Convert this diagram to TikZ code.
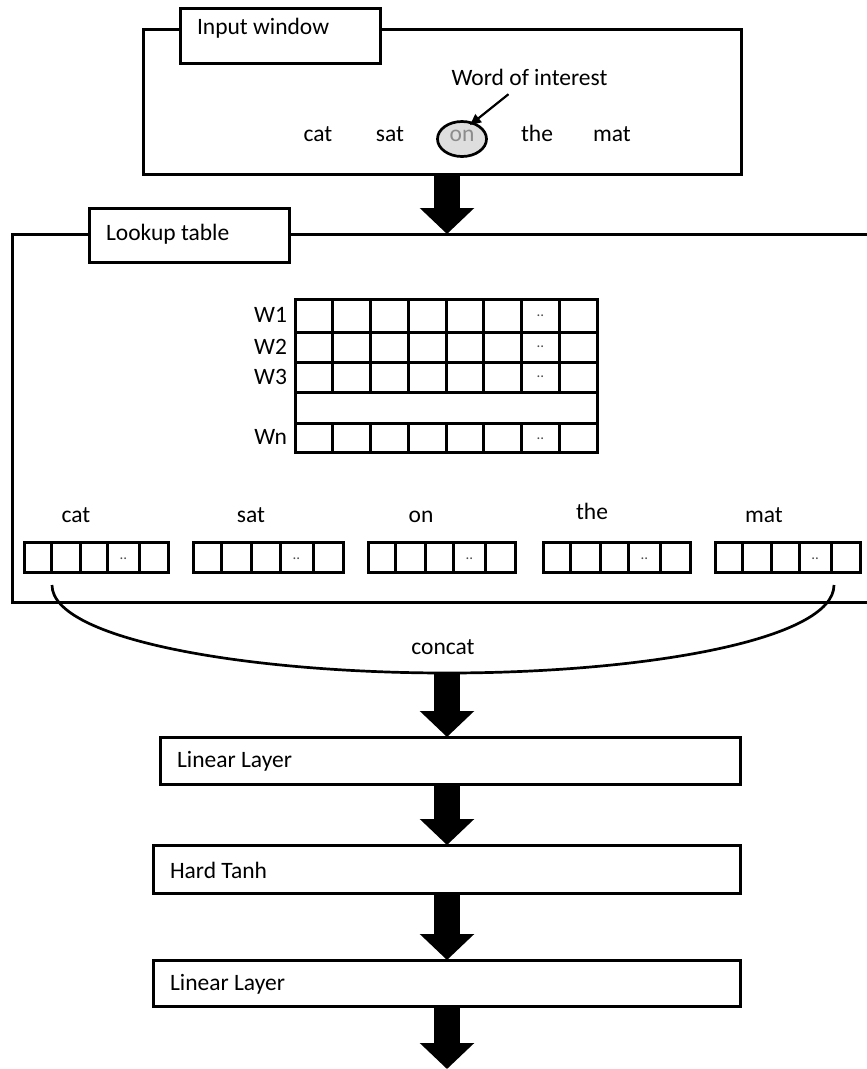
\documentclass[tikz,border=0pt]{standalone}
\usepackage{fontspec}
\setmainfont{Carlito}
\usetikzlibrary{arrows.meta,shapes.geometric,calc}
\begin{document}
\begin{tikzpicture}[x=1pt,y=-1pt,
  frame/.style={draw, line width=3pt, inner sep=0pt, outer sep=0pt, anchor=north west},
  tagbox/.style={frame, fill=white},
  txt/.style={inner sep=0pt, outer sep=0pt, font=\fontsize{23.5}{28}\selectfont, anchor=base west},
  ctxt/.style={txt, anchor=base},
  gridline/.style={line width=3pt},
  bigarrow/.style={line width=26pt, -{Triangle[length=26pt,width=53pt]}},
  celldots/.style={inner sep=0pt, font=\fontsize{15}{15}\selectfont, text=black!70},
]
\useasboundingbox (0,0) rectangle (867,1069);
\coordinate (ax) at (447,0);

% ---- Input window ----
\node[frame, minimum width=598pt, minimum height=145pt] (inwin) at (143,29) {};
\node[tagbox, minimum width=200pt, minimum height=55pt] (inlab) at (180,8) {};
\node[txt] (inlabt) at (197,34.5) {Input window};
\node[ctxt] (woi) at (529.5,85.5) {Word of interest};
\foreach \w/\x in {cat/318, sat/390, the/537, mat/612}
  \node[ctxt] (i\w) at (\x,141.5) {\w};
\node[ellipse, draw, line width=2.7pt, fill=black!13, minimum width=49pt, minimum height=35pt, inner sep=0pt] (onell) at (462,139) {};
\node[ctxt, text=black!45] (ion) at (462,141.5) {on};
\coordinate (ptr) at (470,125);
\draw[line width=2.2pt, -{Triangle[length=11pt,width=10pt]}] ($(woi.south west)+(57,8.5)$) -- (ptr);

% ---- Lookup table ----
\node[frame, minimum width=860pt, minimum height=368pt] (lookup) at (12,234) {};
\node[tagbox, minimum width=200pt, minimum height=54pt] (lklab) at (89,208) {};
\node[txt] (lklabt) at (106,240.5) {Lookup table};

\draw[bigarrow] (inwin.south -| ax) -- (lookup.north -| ax);

% matrix
\draw[gridline] (295,299) rectangle (597,452);
\foreach \y in {332,362,392,423} \draw[gridline] (295,\y) -- (597,\y);
\foreach \i in {1,...,7} {
  \draw[gridline] ({295+37.75*\i},299) -- ({295+37.75*\i},392);
  \draw[gridline] ({295+37.75*\i},423) -- ({295+37.75*\i},452);
}
\foreach \y in {316,347,377,439} \node[celldots] at (540.4,\y) {..};
\foreach \t/\y in {W1/322.5, W2/354.5, W3/384.5, Wn/444.5}
  \node[txt, anchor=base east] (lab\t) at (287,\y) {\t};

% word vectors
\foreach \name/\x/\w in {cat/24/144, sat/193/150, on/368/147, the/543/147, mat/715/145} {
  \node[frame, minimum width=\w pt, minimum height=30pt] (v\name) at (\x,542) {};
  \foreach \f in {0.19,0.39,0.58,0.80}
    \draw[gridline] ({\x+\f*\w},542) -- ({\x+\f*\w},572);
  \node[celldots] at ({\x+0.69*\w},559) {..};
}
\foreach \name/\x/\y in {cat/76/522.5, sat/251/522.5, on/421/522.5, the/592/519.5, mat/764/522.5}
  \node[ctxt] (l\name) at (\x,\y) {\name};

% concat curve
\coordinate (cL) at ($(vcat.south west)+(28,13)$);
\coordinate (cR) at ($(vmat.south east)+(-26,13)$);
\coordinate (cB) at (447,673);
\draw[line width=2.7pt] (cL) .. controls (52,640) and (250,673) .. (cB)
  .. controls (644,673) and (834,640) .. (cR);
\node[ctxt] (concat) at (443,654.5) {concat};

% ---- layers ----
\node[frame, minimum width=580pt, minimum height=47pt] (lin1) at (160,737) {};
\node[txt] (lin1t) at (177,767.5) {Linear Layer};
\node[frame, minimum width=587pt, minimum height=48pt] (tanh) at (153,845) {};
\node[txt] (tanht) at (170,878.5) {Hard Tanh};
\node[frame, minimum width=587pt, minimum height=46pt] (lin2) at (153,960) {};
\node[txt] (lin2t) at (170,990.5) {Linear Layer};
\coordinate (out) at (447,1069);

\draw[bigarrow] (cB) -- (lin1.north -| ax);
\draw[bigarrow] (lin1.south -| ax) -- (tanh.north -| ax);
\draw[bigarrow] (tanh.south -| ax) -- (lin2.north -| ax);
\draw[bigarrow] (lin2.south -| ax) -- (out);
\end{tikzpicture}
\end{document}
